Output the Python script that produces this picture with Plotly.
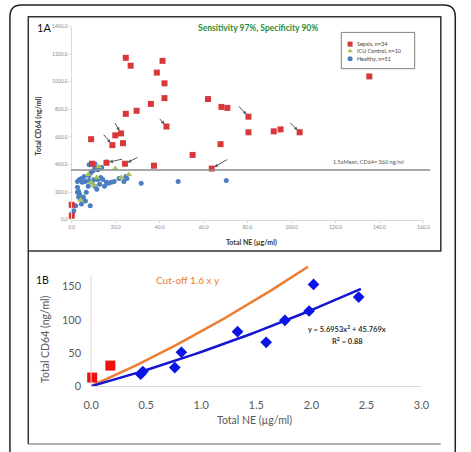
import numpy as np
import plotly.graph_objects as go

W, H = 471, 452


def px(x):
    return x / W


def py(y):
    return 1 - y / H


# ---------------- Panel 1A data ----------------
sepsis_x = [24.6, 26.8, 41.3, 38.7, 42.2, 42.2, 36.0, 29.5, 24.6, 62.0, 68.1, 70.8, 43.1,
            135.4, 80.4, 80.4, 91.9, 95.0, 103.7, 67.7, 8.8, 19.8, 22.4, 23.3, 18.5, 55.0,
            37.4, 24.2, 15.8, 9.2, 63.7, 0.0, 0.0]
sepsis_y = [1173, 1116, 1151, 1066, 988, 881, 839, 789, 767, 874, 817, 810, 675,
            1038, 746, 633, 640, 654, 633, 547, 583, 611, 625, 554, 540, 469,
            391, 405, 412, 405, 370, 107, 28]

icu_x = [15.8, 19.8, 12.3, 7.5, 10.1, 4.0, 22.4, 25.9, 11.4, 8.8]
icu_y = [419, 370, 384, 327, 249, 142, 306, 327, 306, 270]

healthy_x = [10.5, 11.9, 8.8, 9.7, 7.9, 3.5, 4.4, 2.6, 4.8, 6.2, 7.9, 9.2, 10.1, 11.9, 14.1,
             15.8, 18.0, 19.3, 21.5, 23.7, 25.1, 24.6, 7.5, 10.5, 12.7, 14.9, 11.4, 2.6,
             3.1, 2.6, 3.5, 3.1, 4.0, 5.3, 6.2, 8.4, 4.4, 6.6, 1.8, 0.9, 0.4, 0.0, 31.6,
             48.4, 70.3, 7.9, 10.5, 13.6, 5.7, 13.2, 16.7]
healthy_y = [377, 362, 341, 355, 320, 291, 298, 277, 270, 277, 284, 270, 291, 291, 291,
             270, 270, 277, 298, 277, 298, 313, 242, 242, 256, 242, 220, 235,
             206, 199, 185, 163, 149, 163, 135, 100, 114, 199, 100, 64, 50, 28, 263,
             277, 284, 398, 405, 377, 313, 306, 263]

threshold_cd64 = 360
x_ticks_1a = [0, 20, 40, 60, 80, 100, 120, 140, 160]
y_ticks_1a = [0, 200, 400, 600, 800, 1000, 1200, 1400]

legend_labels = ["Sepsis, n=34", "ICU Control, n=10", "Healthy, n=51"]

# arrows: index into sepsis arrays, tail offset in pixels
arrow_idx = [22, 24, 28, 27, 12, 14, 18, 30]
arrow_off = [(-7, -12), (-10, -12), (17, -4), (14, -7), (-8, -9), (-11, -12), (-11, -11), (17, -10)]

# ---------------- Panel 1B data ----------------
ne_x = [0.45, 0.47, 0.76, 0.82, 1.33, 1.59, 1.76, 1.98, 2.02, 2.43]
cd64_y = [18, 22, 28, 51, 82, 66, 99, 113, 153, 134]
sepsis_b_x = [0.01, 0.175]
sepsis_b_y = [13, 31]
coef_a, coef_b = 5.6953, 45.769
cutoff_factor = 1.6
trend_xmax = 2.45
cutoff_xmax = 1.97
x_ticks_1b = [0, 0.5, 1.0, 1.5, 2.0, 2.5, 3.0]
y_ticks_1b = [0, 50, 100, 150]

FONT = "Lato"

fig = go.Figure()

# 1A traces
fig.add_trace(go.Scatter(x=healthy_x, y=healthy_y, mode="markers", xaxis="x", yaxis="y",
                         marker=dict(symbol="circle", size=5, color="#4A7EC0", line=dict(width=0)),
                         cliponaxis=False, showlegend=False))
fig.add_trace(go.Scatter(x=icu_x, y=icu_y, mode="markers", xaxis="x", yaxis="y",
                         marker=dict(symbol="triangle-up", size=6, color="#A9C15A", line=dict(width=0)),
                         cliponaxis=False, showlegend=False))
fig.add_trace(go.Scatter(x=sepsis_x, y=sepsis_y, mode="markers", xaxis="x", yaxis="y",
                         marker=dict(symbol="square", size=6, color="#D8383A", line=dict(width=0)),
                         cliponaxis=False, showlegend=False))

# legend markers (hidden axes)
fig.add_trace(go.Scatter(x=[0.12, 0.12, 0.12], y=[0.676, 0.486, 0.27], mode="markers",
                         xaxis="x3", yaxis="y3",
                         marker=dict(symbol=["square", "triangle-up", "circle"], size=5,
                                     color=["#D8383A", "#A9C15A", "#4A7EC0"], line=dict(width=0)),
                         cliponaxis=False, showlegend=False, hoverinfo="skip"))

# 1B traces
tx = np.linspace(0, trend_xmax, 40)
ty = coef_a * tx ** 2 + coef_b * tx
cx = np.linspace(0, cutoff_xmax, 40)
cy = cutoff_factor * (coef_a * cx ** 2 + coef_b * cx)
fig.add_trace(go.Scatter(x=cx, y=cy, mode="lines", xaxis="x2", yaxis="y2",
                         line=dict(color="#ED7D31", width=2.5), cliponaxis=False, showlegend=False))
fig.add_trace(go.Scatter(x=tx, y=ty, mode="lines", xaxis="x2", yaxis="y2",
                         line=dict(color="#1414D2", width=2.5), cliponaxis=False, showlegend=False))
fig.add_trace(go.Scatter(x=ne_x, y=cd64_y, mode="markers", xaxis="x2", yaxis="y2",
                         marker=dict(symbol="diamond", size=9, color="#0A14E6", line=dict(width=0)),
                         cliponaxis=False, showlegend=False))
fig.add_trace(go.Scatter(x=sepsis_b_x, y=sepsis_b_y, mode="markers", xaxis="x2", yaxis="y2",
                         marker=dict(symbol="square", size=10, color="#F01010", line=dict(width=0)),
                         cliponaxis=False, showlegend=False))

small_tick = dict(size=5, color="#8a8a8a", family=FONT)

fig.update_layout(
    width=W, height=H, margin=dict(l=0, r=0, t=0, b=0),
    paper_bgcolor="white", plot_bgcolor="rgba(0,0,0,0)",
    font=dict(family=FONT),
    showlegend=False,
    xaxis=dict(domain=[px(66), px(430)], range=[0, 160], tickvals=x_ticks_1a,
               tickformat=".1f", showline=True, linecolor="#d9d9d9", linewidth=1,
               ticks="outside", ticklen=2, tickcolor="#d9d9d9", tickfont=small_tick,
               showgrid=False, zeroline=False, anchor="y"),
    yaxis=dict(domain=[py(221), py(24)], range=[0, 1400], tickvals=y_ticks_1a,
               tickformat=".1f", showline=True, linecolor="#d9d9d9", linewidth=1,
               ticks="outside", ticklen=2, tickcolor="#d9d9d9", tickfont=small_tick,
               showgrid=False, zeroline=False, anchor="x"),
    xaxis2=dict(domain=[px(86), px(428)], range=[0, 3], tickvals=x_ticks_1b,
                tickformat=".1f", showline=True, linecolor="#d9d9d9", linewidth=1,
                ticks="", tickfont=dict(size=11, color="#595959", family=FONT),
                ticklabelstandoff=9, showgrid=False, zeroline=False, anchor="y2"),
    yaxis2=dict(domain=[py(391), py(262)], range=[0, 190], tickvals=y_ticks_1b,
                showline=False, ticks="", tickfont=dict(size=11, color="#595959", family=FONT),
                ticklabelstandoff=9, showgrid=False, zeroline=False, anchor="x2"),
    xaxis3=dict(domain=[px(345), px(421)], range=[0, 1], visible=False, anchor="y3"),
    yaxis3=dict(domain=[py(67), py(30)], range=[0, 1], visible=False, anchor="x3"),
)

# ---------------- shapes ----------------
r = 12
x0, x1, yt, yb = px(2), px(463), py(2), py(470)
rx, ry = r / W, r / H
outer = (f"M {x0},{yb} L {x0},{yt - ry} Q {x0},{yt} {x0 + rx},{yt} "
         f"L {x1 - rx},{yt} Q {x1},{yt} {x1},{yt - ry} L {x1},{yb}")
shapes = [
    dict(type="path", xref="paper", yref="paper", path=outer,
         line=dict(color="#222222", width=1.5)),
    dict(type="rect", xref="paper", yref="paper", x0=px(21), x1=px(448), y0=py(253), y1=py(14),
         line=dict(color="#333333", width=1.5)),
    dict(type="line", xref="paper", yref="paper", x0=px(21), x1=px(21), y0=py(253), y1=py(450),
         line=dict(color="#333333", width=1.5)),
    dict(type="line", xref="paper", yref="paper", x0=px(21), x1=px(448), y0=py(450), y1=py(450),
         line=dict(color="#666666", width=1)),
    dict(type="line", xref="paper", yref="y", x0=px(65), x1=px(437),
         y0=threshold_cd64, y1=threshold_cd64, line=dict(color="#8c8c8c", width=1.5)),
    dict(type="rect", xref="paper", yref="paper", x0=px(345), x1=px(421), y0=py(67), y1=py(30),
         line=dict(color="#808080", width=1)),
    dict(type="line", xref="paper", yref="paper", x0=px(86), x1=px(86), y0=py(391), y1=py(278),
         line=dict(color="#d9d9d9", width=1)),
]
fig.update_layout(shapes=shapes)

# ---------------- annotations ----------------
ann = []


def txt(x, y, s, size, color="#000000", bold=False, angle=0, xanchor="center"):
    ann.append(dict(x=px(x), y=py(y), xref="paper", yref="paper", text=(f"<b>{s}</b>" if bold else s),
                    showarrow=False, xanchor=xanchor, yanchor="middle", textangle=angle,
                    font=dict(size=size, color=color, family=FONT)))


txt(37, 25, "1A", 11, "#111111")
txt(259, 25, "Sensitivity 97%, Specificity 90%", 8.5, "#2E8B3A", bold=True)
txt(32, 125, "Total CD64 (ng/ml)", 7, "#333333", bold=True, angle=-90)
txt(252, 244, "Total NE (µg/ml)", 7, "#333333", bold=True)
txt(373, 162, "1.5xMean, CD64= 360 ng/ml", 5.5, "#555555")
for lab, yy in zip(legend_labels, [42, 49, 57]):
    txt(359, yy, lab, 5.5, "#444444", xanchor="left")

for i, (ox, oy) in zip(arrow_idx, arrow_off):
    ann.append(dict(x=sepsis_x[i], y=sepsis_y[i], xref="x", yref="y", ax=ox, ay=oy,
                    text="", showarrow=True, arrowhead=2, arrowsize=0.7, arrowwidth=1,
                    arrowcolor="#555555", standoff=3))

txt(36, 283, "1B", 10.5, "#111111")
txt(186, 283, "Cut-off 1.6 x y", 10, "#ED7D31")
txt(351, 333, "y = 5.6953x<sup>2</sup> + 45.769x", 7.5, "#333333", bold=True)
txt(351, 345, "R<sup>2</sup> = 0.88", 7.5, "#333333", bold=True)
txt(38, 343, "Total CD64 (ng/ml)", 10.5, "#595959", angle=-90)
txt(255, 425, "Total NE (µg/ml)", 10.5, "#595959")

fig.update_layout(annotations=ann)

fig.write_html("out.html")
